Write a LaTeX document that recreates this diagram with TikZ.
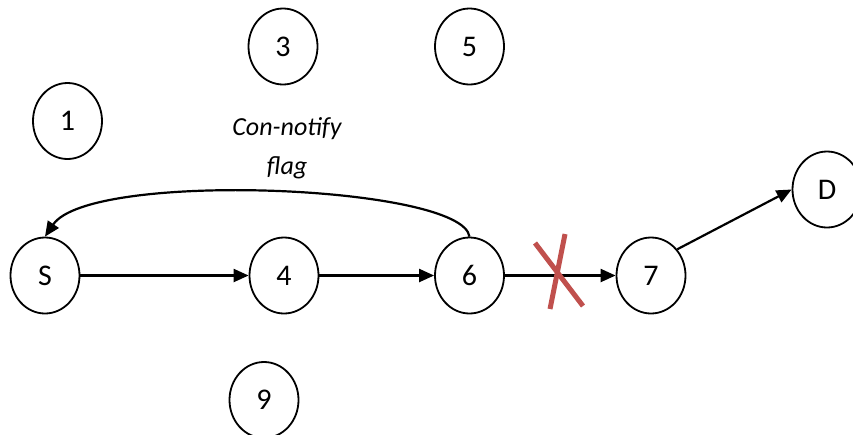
\documentclass[tikz,border=0pt]{standalone}
\usepackage{fontspec}
\setmainfont{Carlito}
\usetikzlibrary{arrows.meta,shapes.geometric}
\definecolor{xred}{HTML}{C0504D}
\begin{document}
\begin{tikzpicture}[x=1pt,y=-1pt,
  vtx/.style={draw,ellipse,line width=1.8pt,minimum width=69pt,minimum height=76pt,inner sep=0pt,font=\fontsize{30}{36}\selectfont},
  edge/.style={line width=2.2pt,-{Triangle[length=15pt,width=13pt]}},
  cross/.style={xred,line width=5pt}]
\useasboundingbox (0,0) rectangle (853,434);
\node[vtx] (n1) at (67.5,121) {1};
\node[vtx] (n3) at (283,46.5) {3};
\node[vtx] (n5) at (469.5,46.5) {5};
\node[vtx] (S) at (45,275.5) {S};
\node[vtx] (n4) at (284,275.5) {4};
\node[vtx] (n6) at (469.5,275.5) {6};
\node[vtx] (n7) at (651,275.5) {7};
\node[vtx] (D) at (827,189.5) {D};
\node[vtx] (n9) at (264,400) {9};
\node[font=\fontsize{26}{39}\selectfont\itshape,align=center] (lbl) at (287,148.5) {Con-notify\\flag};
\draw[edge] (S.east) -- (n4.west);
\draw[edge] (n4.east) -- (n6.west);
\draw[edge] (n6.east) -- (n7.west);
\draw[edge] (n7.45) -- (D.west);
\draw[edge] (n6.north) .. controls (462,185) and (90,170) .. (S.north);
\draw[cross] (535,243) -- (583,306);
\draw[cross] (565,234) -- (550,309);
\end{tikzpicture}
\end{document}
